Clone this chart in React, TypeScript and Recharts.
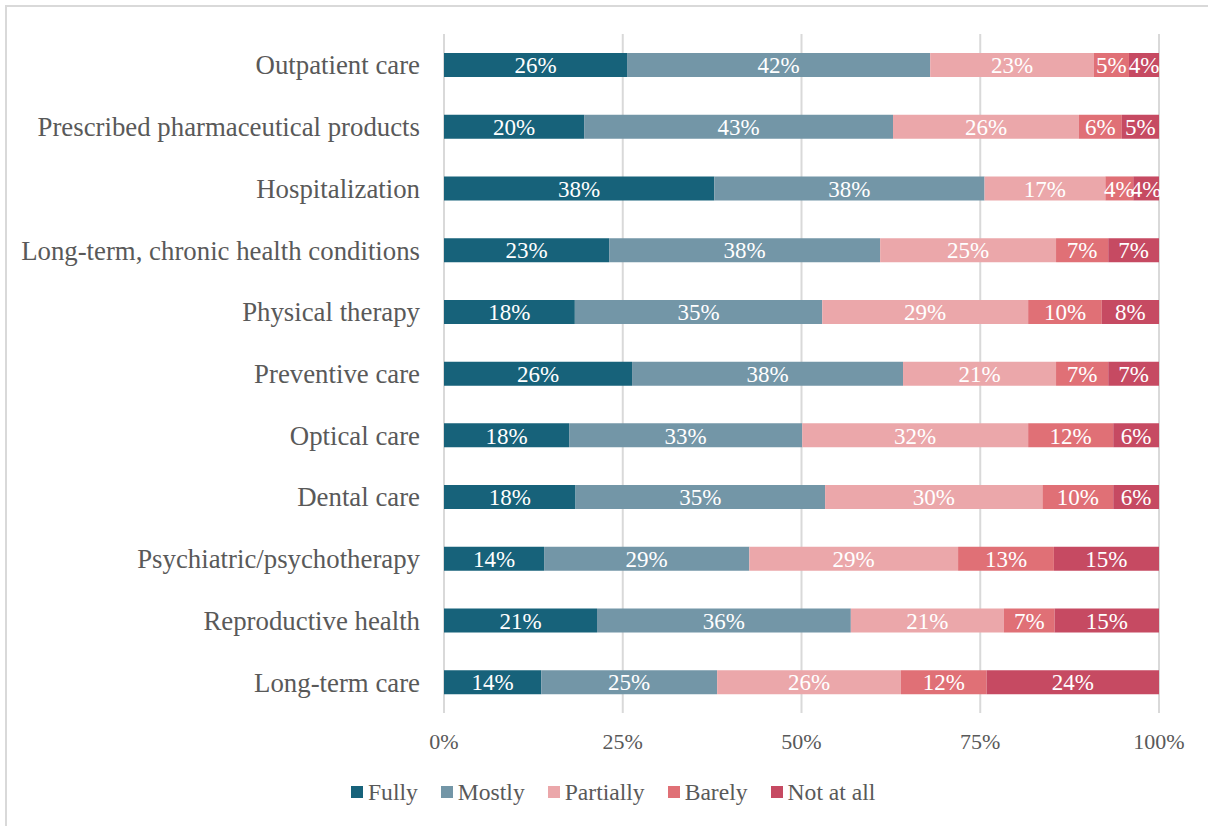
import React from "react";
import {
  Bar,
  BarChart,
  CartesianGrid,
  LabelList,
  XAxis,
  YAxis,
} from "recharts";

const categories = [
  "Outpatient care",
  "Prescribed pharmaceutical products",
  "Hospitalization",
  "Long-term, chronic health conditions",
  "Physical therapy",
  "Preventive care",
  "Optical care",
  "Dental care",
  "Psychiatric/psychotherapy ",
  "Reproductive health",
  "Long-term care",
];

const fully = [25.6, 19.6, 37.8, 23.1, 18.3, 26.3, 17.5, 18.4, 14.0, 21.4, 13.6];
const mostly = [42.4, 43.2, 37.8, 37.9, 34.6, 37.9, 32.6, 34.9, 28.7, 35.5, 24.6];
const partially = [22.9, 26.0, 16.9, 24.6, 28.8, 21.4, 31.6, 30.4, 29.2, 21.4, 25.7];
const barely = [4.9, 6.0, 3.9, 7.3, 10.3, 7.3, 11.9, 9.9, 13.4, 7.1, 12.0];
const notAtAll = [4.2, 5.2, 3.6, 7.1, 8.0, 7.1, 6.4, 6.4, 14.7, 14.6, 24.1];

const xTicks = [0, 25, 50, 75, 100];

const series = [
  { key: "fully", name: "Fully", color: "#17627A" },
  { key: "mostly", name: "Mostly", color: "#7396A7" },
  { key: "partially", name: "Partially", color: "#EBA7AA" },
  { key: "barely", name: "Barely", color: "#E07076" },
  { key: "notAtAll", name: "Not at all", color: "#C64A62" },
];

const data = categories.map((name, i) => ({
  name,
  fully: fully[i],
  mostly: mostly[i],
  partially: partially[i],
  barely: barely[i],
  notAtAll: notAtAll[i],
}));

const FONT = "Liberation Serif";

function ChartLegend() {
  return (
    <div
      style={{
        position: "absolute",
        left: 351,
        top: 778,
        display: "flex",
        gap: 23,
        fontSize: 23.6,
        color: "#595959",
        lineHeight: "28px",
        whiteSpace: "nowrap",
      }}
    >
      {series.map((s) => (
        <div key={s.key} style={{ display: "flex", alignItems: "center" }}>
          <span
            style={{
              display: "inline-block",
              width: 12,
              height: 12,
              background: s.color,
              marginRight: 5,
            }}
          />
          {s.name}
        </div>
      ))}
    </div>
  );
}

export default function App() {
  return (
    <div
      style={{
        position: "absolute",
        left: 0,
        top: 0,
        width: 1208,
        height: 826,
        background: "#fff",
        overflow: "hidden",
        fontFamily: FONT,
      }}
    >
      <div
        style={{
          position: "absolute",
          left: 5,
          top: 5,
          width: 1210,
          height: 830,
          borderLeft: "2px solid #D9D9D9",
          borderTop: "2px solid #D9D9D9",
        }}
      />
      <div style={{ position: "absolute", left: 0, top: 0 }}>
        <BarChart
          width={1208}
          height={826}
          data={data}
          layout="vertical"
          margin={{ top: 34, right: 49, bottom: 73, left: 0 }}
          barSize={24}
          style={{ fontFamily: FONT }}
        >
          <CartesianGrid horizontal={false} stroke="#D9D9D9" strokeWidth={2} />
          <XAxis
            type="number"
            domain={[0, 100]}
            ticks={xTicks}
            tickFormatter={(v) => `${v}%`}
            axisLine={false}
            tickLine={false}
            tickMargin={14}
            height={40}
            tick={{ fill: "#595959", fontSize: 22, fontFamily: FONT }}
          />
          <YAxis
            type="category"
            dataKey="name"
            width={444}
            axisLine={false}
            tickLine={false}
            tickMargin={18}
            interval={0}
            tick={{ fill: "#595959", fontSize: 26.8, fontFamily: FONT }}
          />
          {series.map((s) => (
            <Bar
              key={s.key}
              dataKey={s.key}
              name={s.name}
              stackId="a"
              fill={s.color}
              isAnimationActive={false}
            >
              <LabelList
                dataKey={s.key}
                position="center"
                fill="#FFFFFF"
                fontSize={23}
                fontFamily={FONT}
                formatter={(v: number) => `${Math.round(v)}%`}
              />
            </Bar>
          ))}
        </BarChart>
      </div>
      <ChartLegend />
    </div>
  );
}
